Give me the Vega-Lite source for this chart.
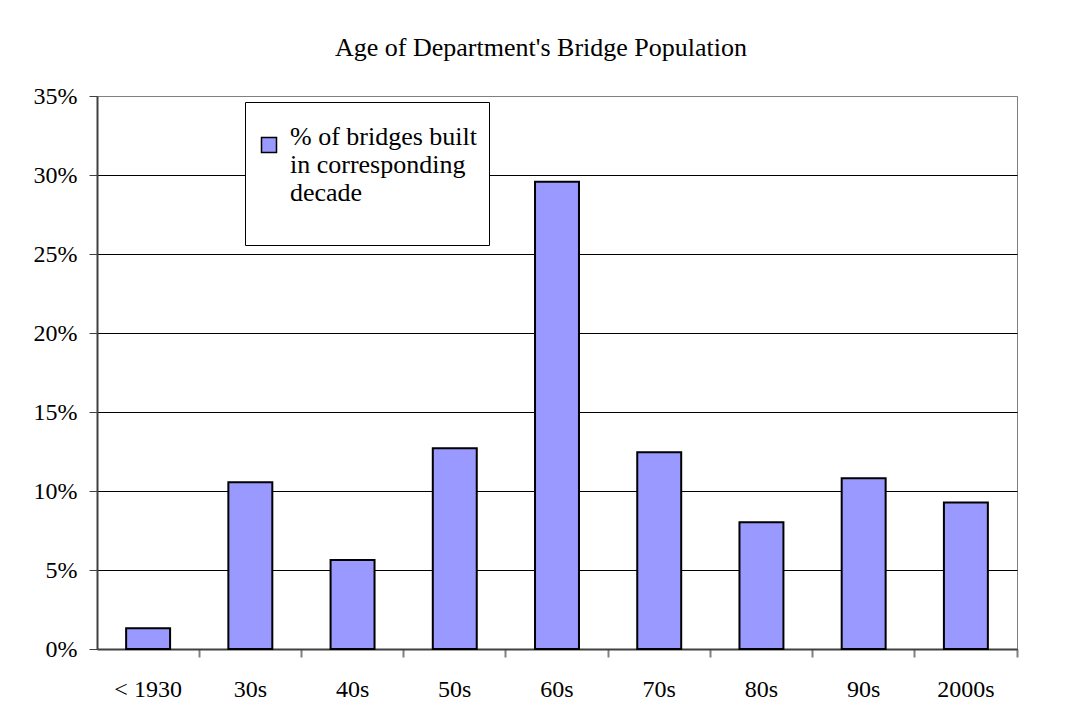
{
  "$schema": "https://vega.github.io/schema/vega-lite/v6.json",
  "width": 920,
  "height": 553,
  "padding": {"left": 33, "top": 35, "right": 10, "bottom": 10},
  "background": "white",
  "title": {
    "text": "Age of Department's Bridge Population",
    "font": "Liberation Serif",
    "fontSize": 26,
    "fontWeight": "normal",
    "color": "black",
    "anchor": "middle",
    "dx": -16,
    "offset": 23
  },
  "data": {
    "values": [
      {"decade": "< 1930", "pct": 0.0131, "series": "% of bridges built in corresponding decade"},
      {"decade": "30s", "pct": 0.1055, "series": "% of bridges built in corresponding decade"},
      {"decade": "40s", "pct": 0.0563, "series": "% of bridges built in corresponding decade"},
      {"decade": "50s", "pct": 0.1270, "series": "% of bridges built in corresponding decade"},
      {"decade": "60s", "pct": 0.2958, "series": "% of bridges built in corresponding decade"},
      {"decade": "70s", "pct": 0.1245, "series": "% of bridges built in corresponding decade"},
      {"decade": "80s", "pct": 0.0802, "series": "% of bridges built in corresponding decade"},
      {"decade": "90s", "pct": 0.1080, "series": "% of bridges built in corresponding decade"},
      {"decade": "2000s", "pct": 0.0928, "series": "% of bridges built in corresponding decade"}
    ]
  },
  "mark": {"type": "bar", "stroke": "black", "strokeWidth": 2, "width": {"band": 0.43}},
  "encoding": {
    "x": {
      "field": "decade",
      "type": "nominal",
      "sort": null,
      "scale": {"paddingInner": 0, "paddingOuter": 0},
      "axis": {
        "title": null,
        "labelAngle": 0,
        "bandPosition": 1,
        "tickSize": 8,
        "tickColor": "#808080",
        "tickWidth": 2,
        "domainColor": "#404040",
        "domainWidth": 2,
        "labelPadding": 20,
        "labelFont": "Liberation Serif",
        "labelFontSize": 24,
        "labelColor": "black",
        "grid": false
      }
    },
    "y": {
      "field": "pct",
      "type": "quantitative",
      "scale": {"domain": [0, 0.35], "nice": false},
      "axis": {
        "title": null,
        "values": [0, 0.05, 0.1, 0.15, 0.2, 0.25, 0.3, 0.35],
        "format": ".0%",
        "tickSize": 8,
        "tickColor": "#404040",
        "tickWidth": 1,
        "domainColor": "#404040",
        "domainWidth": 2,
        "labelPadding": 12,
        "labelFont": "Liberation Serif",
        "labelFontSize": 24,
        "labelColor": "black",
        "grid": true,
        "gridColor": {"condition": {"test": "datum.value >= 0.35", "value": "#808080"}, "value": "black"},
        "gridWidth": 1
      }
    },
    "color": {
      "field": "series",
      "type": "nominal",
      "scale": {"range": ["#9999FF"]},
      "legend": {
        "title": " ",
        "titleFontSize": 10,
        "titlePadding": 9,
        "orient": "none",
        "legendX": 148,
        "legendY": 6,
        "fillColor": "white",
        "strokeColor": "black",
        "padding": 11,
        "symbolType": "square",
        "symbolSize": 225,
        "symbolStrokeColor": "black",
        "symbolStrokeWidth": 1.5,
        "symbolOpacity": 1,
        "labelFont": "Liberation Serif",
        "labelFontSize": 26,
        "labelColor": "black",
        "labelLimit": 400,
        "labelOffset": 8,
        "labelBaseline": "alphabetic",
        "labelExpr": "['% of bridges built', 'in corresponding', 'decade', '']",
        "encode": {"labels": {"update": {"lineHeight": {"value": 27}, "dy": {"value": 6}}}}
      }
    }
  },
  "config": {
    "view": {"stroke": "#808080", "strokeWidth": 1},
    "bar": {"fillOpacity": 1}
  }
}
